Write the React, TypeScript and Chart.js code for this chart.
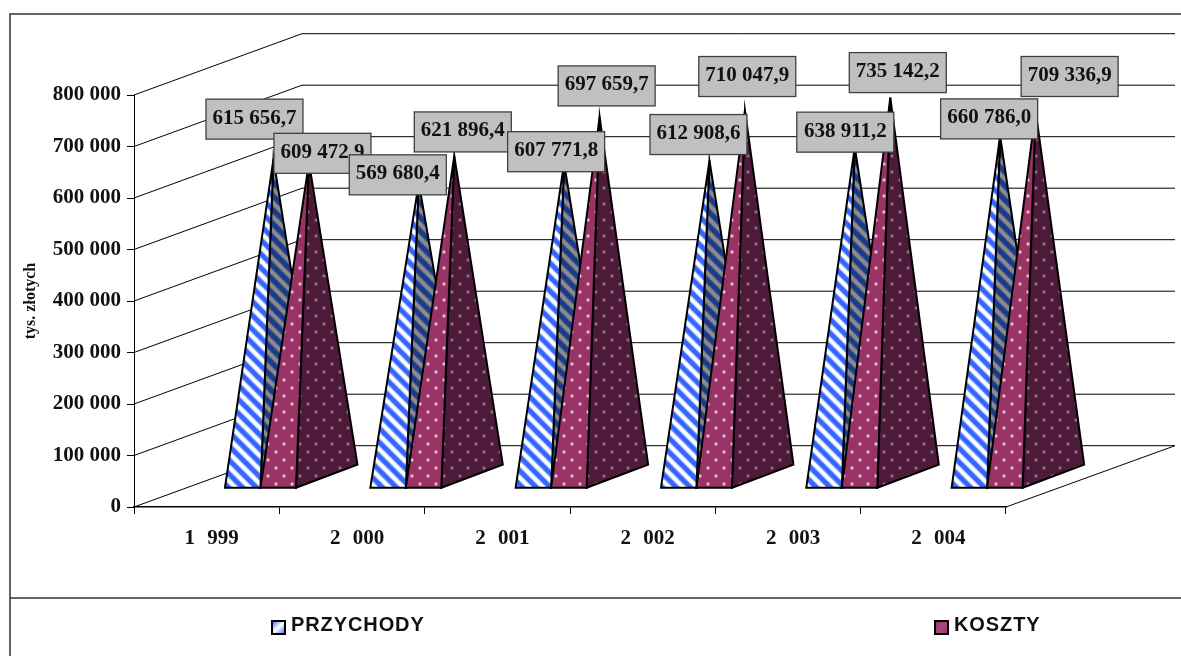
import React, { useEffect, useRef } from "react";
import { Chart, registerables } from "chart.js";

Chart.register(...registerables);

const categories = ["1 999", "2 000", "2 001", "2 002", "2 003", "2 004"];
const przychody = [615656.7, 569680.4, 607771.8, 612908.6, 638911.2, 660786.0];
const koszty = [609472.9, 621896.4, 697659.7, 710047.9, 735142.2, 709336.9];
const seriesNames = ["PRZYCHODY", "KOSZTY"];
const yMax = 800000;
const yStep = 100000;

// Manually placed value labels: offset of the box centre from the pyramid's apex
const przychodyLabelOffsets = [[-19, -40], [-21, -8], [-8, -11.5], [-11, -26], [-9.5, -15], [-11, -17]];
const kosztyLabelOffsets = [[13.5, -9], [8.5, -24], [7, -31], [2.3, -34], [7.5, -25], [34, -34.4]];

const SERIF = '"Liberation Serif", "Times New Roman", serif';
const SANS = '"Liberation Sans", Arial, sans-serif';

// 3D projection constants
const WALL_DX = 168;
const WALL_DY = -61.3;
const FLOOR_Y_OFFSET = -19.3; // front of the pyramid bases above the axis line
const BASE_W = 35.5;
const BASE_DX = 61.5;
const BASE_DY = -23;
const SERIES_START = [18.3, 53.8]; // from the category centre
const BOX_W = 97;
const BOX_H = 40;

const fmtThousands = (v: number) => String(Math.round(v)).replace(/\B(?=(\d{3})+(?!\d))/g, " ");
const fmtValue = (v: number) => {
  const [a, b] = v.toFixed(1).split(".");
  return `${fmtThousands(Number(a))},${b}`;
};

function stripePattern(ctx: CanvasRenderingContext2D, bg: string, soft: string, fg: string) {
  const s = 14;
  const c = document.createElement("canvas");
  c.width = s;
  c.height = s;
  const g = c.getContext("2d")!;
  g.fillStyle = bg;
  g.fillRect(0, 0, s, s);
  [[soft, 5.6], [fg, 3.4]].forEach(([col, lw]) => {
    g.strokeStyle = col as string;
    g.lineWidth = lw as number;
    for (const o of [-s, 0, s]) {
      g.beginPath();
      g.moveTo(o - 2, -2);
      g.lineTo(o + s + 2, s + 2);
      g.stroke();
    }
  });
  return ctx.createPattern(c, "repeat")!;
}

function dotPattern(ctx: CanvasRenderingContext2D, bg: string, fg: string) {
  const s = 16;
  const c = document.createElement("canvas");
  c.width = s;
  c.height = s;
  const g = c.getContext("2d")!;
  g.fillStyle = bg;
  g.fillRect(0, 0, s, s);
  g.fillStyle = fg;
  for (const [x, y] of [[4, 4], [12, 12]]) {
    g.beginPath();
    g.arc(x, y, 1.7, 0, Math.PI * 2);
    g.fill();
  }
  return ctx.createPattern(c, "repeat")!;
}

const framePlugin = {
  id: "frame",
  beforeDraw(chart: any) {
    const { ctx, width, height } = chart;
    ctx.save();
    ctx.fillStyle = "#fff";
    ctx.fillRect(0, 0, width, height);
    ctx.strokeStyle = "#333";
    ctx.lineWidth = 1.5;
    ctx.beginPath();
    ctx.moveTo(width, 14);
    ctx.lineTo(10, 14);
    ctx.lineTo(10, height);
    ctx.moveTo(10, 598);
    ctx.lineTo(width, 598);
    ctx.stroke();
    ctx.restore();
  },
};

const wallsPlugin = {
  id: "walls",
  beforeDatasetsDraw(chart: any) {
    const { ctx, scales, chartArea } = chart;
    const y = scales.y;
    ctx.save();
    ctx.strokeStyle = "#000";
    ctx.lineWidth = 1;
    for (let v = 0; v <= yMax; v += yStep) {
      const py = y.getPixelForValue(v);
      ctx.beginPath();
      ctx.moveTo(chartArea.left, py);
      ctx.lineTo(chartArea.left + WALL_DX, py + WALL_DY);
      ctx.lineTo(chartArea.right + WALL_DX + 1, py + WALL_DY);
      ctx.stroke();
    }
    const y0 = y.getPixelForValue(0);
    ctx.beginPath();
    ctx.moveTo(chartArea.right, y0);
    ctx.lineTo(chartArea.right + WALL_DX + 1, y0 + WALL_DY);
    ctx.stroke();
    ctx.restore();
  },
};

const pyramidsPlugin = {
  id: "pyramids",
  afterDatasetsDraw(chart: any) {
    const { ctx, scales } = chart;
    const { x, y } = scales;
    const blueFront = stripePattern(ctx, "#3366ff", "#99b3ff", "#ffffff");
    const blueSide = stripePattern(ctx, "#1c3a8c", "#4a5f90", "#8c8c8c");
    const roseFront = dotPattern(ctx, "#993366", "#e0bcd0");
    const roseSide = dotPattern(ctx, "#4d1a3a", "#8a6a80");
    const faces = [[blueFront, blueSide], [roseFront, roseSide]];
    const apexes: { x: number; y: number; dx: number; dy: number; text: string }[] = [];
    ctx.save();
    ctx.strokeStyle = "#000";
    ctx.lineWidth = 2;
    ctx.lineJoin = "miter";
    ctx.miterLimit = 12;
    categories.forEach((_, i) => {
      chart.data.datasets.forEach((ds: any, s: number) => {
        const v = ds.data[i];
        const fl = x.getPixelForValue(i) + SERIES_START[s];
        const fy = y.getPixelForValue(0) + FLOOR_Y_OFFSET;
        const fr = fl + BASE_W;
        const br = fr + BASE_DX;
        const by = fy + BASE_DY;
        const ax = (fl + br) / 2;
        const ay = y.getPixelForValue(v) + (FLOOR_Y_OFFSET + BASE_DY / 2);
        ctx.fillStyle = faces[s][1];
        ctx.beginPath();
        ctx.moveTo(fr, fy);
        ctx.lineTo(br, by);
        ctx.lineTo(ax, ay);
        ctx.closePath();
        ctx.fill();
        ctx.stroke();
        ctx.fillStyle = faces[s][0];
        ctx.beginPath();
        ctx.moveTo(fl, fy);
        ctx.lineTo(fr, fy);
        ctx.lineTo(ax, ay);
        ctx.closePath();
        ctx.fill();
        ctx.stroke();
        const off = (s === 0 ? przychodyLabelOffsets : kosztyLabelOffsets)[i];
        apexes.push({ x: ax, y: ay, dx: off[0], dy: off[1], text: fmtValue(v) });
      });
    });
    // value labels
    ctx.font = `bold 21px ${SERIF}`;
    ctx.textAlign = "center";
    ctx.textBaseline = "middle";
    ctx.lineWidth = 1.3;
    ctx.strokeStyle = "#404040";
    apexes.forEach((a) => {
      const cx = a.x + a.dx;
      const cy = a.y + a.dy;
      ctx.fillStyle = "#c0c0c0";
      ctx.fillRect(cx - BOX_W / 2, cy - BOX_H / 2, BOX_W, BOX_H);
      ctx.strokeRect(cx - BOX_W / 2, cy - BOX_H / 2, BOX_W, BOX_H);
      ctx.fillStyle = "#111";
      ctx.fillText(a.text, cx, cy - 1);
    });
    ctx.restore();
  },
};

const legendPlugin = {
  id: "customLegend",
  afterDraw(chart: any) {
    const { ctx } = chart;
    const items = [
      { sx: 272, tx: 291, c1: "#3366ff", c2: "#ffffff" },
      { sx: 935, tx: 954, c1: "#993366", c2: "#a84a7c" },
    ];
    ctx.save();
    items.forEach((it, i) => {
      const grad = ctx.createLinearGradient(it.sx, 621, it.sx + 13, 634);
      grad.addColorStop(0, it.c1);
      grad.addColorStop(0.5, it.c2);
      grad.addColorStop(1, it.c1);
      ctx.fillStyle = grad;
      ctx.fillRect(it.sx, 621, 13, 13);
      ctx.strokeStyle = "#000";
      ctx.lineWidth = 2;
      ctx.strokeRect(it.sx, 621, 13, 13);
      ctx.fillStyle = "#111";
      ctx.font = `bold 20px ${SANS}`;
      (ctx as any).letterSpacing = "0.9px";
      ctx.textAlign = "left";
      ctx.textBaseline = "middle";
      ctx.fillText(seriesNames[i], it.tx, 625.5);
    });
    ctx.restore();
  },
};

export default function App() {
  const ref = useRef<HTMLCanvasElement>(null);
  useEffect(() => {
    const chart = new Chart(ref.current!, {
      type: "bar",
      data: {
        labels: categories,
        datasets: [
          { label: seriesNames[0], data: przychody, backgroundColor: "transparent", borderWidth: 0 },
          { label: seriesNames[1], data: koszty, backgroundColor: "transparent", borderWidth: 0 },
        ],
      },
      options: {
        animation: false,
        responsive: false,
        layout: { padding: { left: 10, top: 95, right: 175, bottom: 0 } },
        plugins: { legend: { display: false }, tooltip: { enabled: false }, title: { display: false } },
        scales: {
          x: {
            afterFit(scale: any) {
              scale.height = 149;
              if (!scale.__spaced) {
                // the reference's year labels have a wide word gap
                const orig = scale.drawLabels;
                scale.drawLabels = function (area: any) {
                  const c = this.ctx;
                  c.save();
                  c.wordSpacing = "7px";
                  orig.call(this, area);
                  c.restore();
                };
                scale.__spaced = true;
              }
            },
            border: { color: "#000", width: 1.5 },
            grid: { drawOnChartArea: false, color: "#000", tickLength: 7, offset: true },
            ticks: {
              color: "#111",
              font: { family: SERIF, weight: "bold", size: 21 },
              padding: 12,
              labelOffset: 5,
              maxRotation: 0,
            },
          },
          y: {
            min: 0,
            max: yMax,
            afterFit(scale: any) {
              scale.width = 124;
            },
            border: { color: "#000", width: 1 },
            grid: { drawOnChartArea: false, color: "#000", tickLength: 7 },
            title: {
              display: true,
              text: "tys. złotych",
              color: "#111",
              font: { family: SERIF, weight: "bold", size: 16 },
              padding: { top: 11, bottom: 0 },
            },
            ticks: {
              stepSize: yStep,
              color: "#111",
              padding: 6,
              font: { family: SERIF, weight: "bold", size: 21 },
              callback: (v: any) => fmtThousands(Number(v)),
            },
          },
        },
      },
      plugins: [framePlugin, wallsPlugin, pyramidsPlugin, legendPlugin],
    } as any);
    return () => chart.destroy();
  }, []);
  return (
    <div style={{ position: "fixed", left: 0, top: 0 }}>
      <canvas ref={ref} width={1181} height={656} style={{ display: "block" }} />
    </div>
  );
}
